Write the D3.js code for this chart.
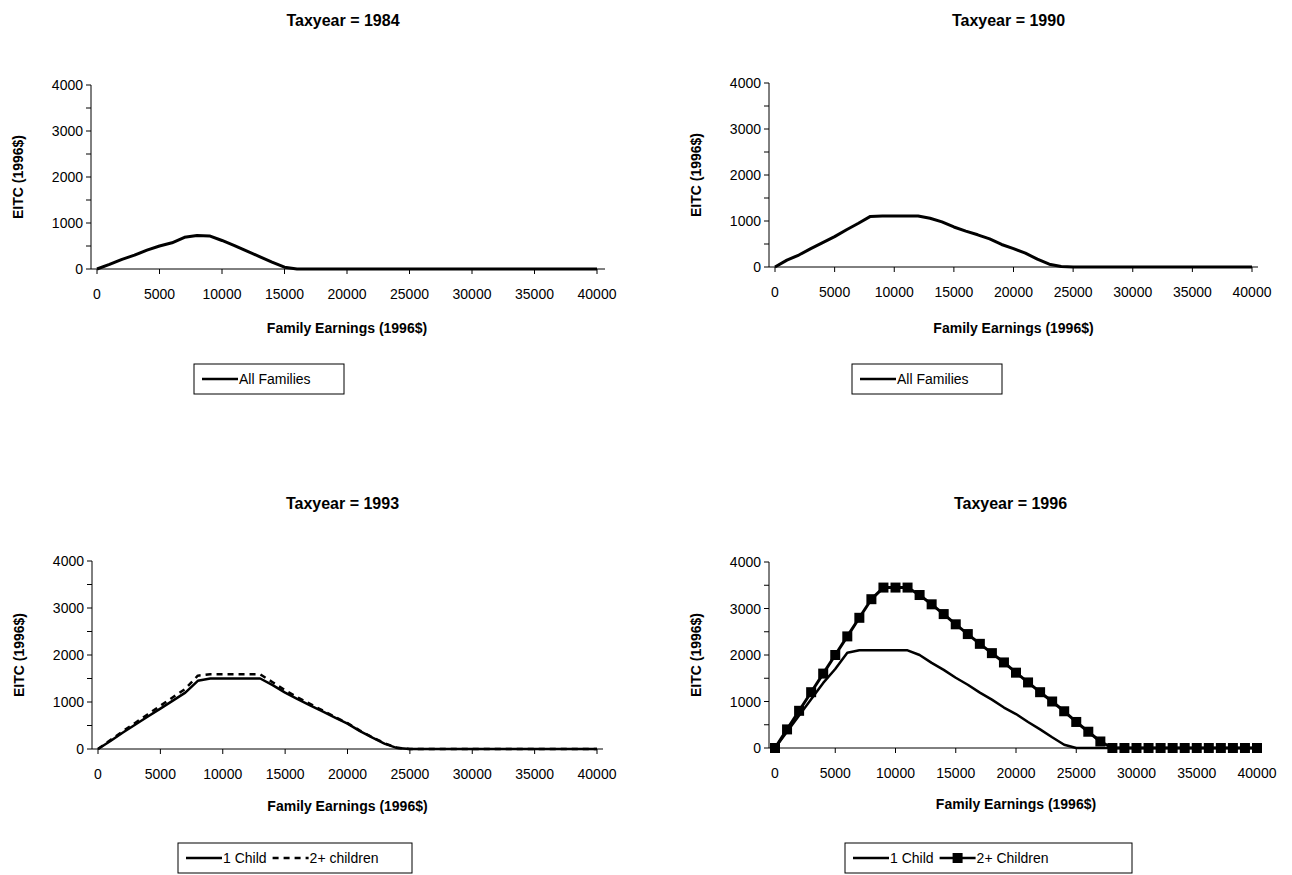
<!DOCTYPE html>
<html>
<head>
<script src="https://cdnjs.cloudflare.com/ajax/libs/d3/7.8.5/d3.min.js"></script>
<style>
  body { margin: 0; background: #fff; }
  text { font-family: "Liberation Sans", Arial, sans-serif; fill: #000; }
</style>
</head>
<body>
<script>
// earnings, every 1000 dollars from 0 to 40000
var earnings = d3.range(0, 40001, 1000);
var xTicks = [0, 5000, 10000, 15000, 20000, 25000, 30000, 35000, 40000];
var yTicks = [0, 1000, 2000, 3000, 4000];

function pad(arr) { var a = arr.slice(); while (a.length < 41) a.push(0); return a; }

var all1984 = pad([0, 100, 210, 300, 410, 500, 570, 690, 730, 720, 620, 510, 390, 270, 150, 40, 0]);
var all1990 = pad([0, 150, 260, 400, 530, 660, 810, 950, 1100, 1110, 1110, 1110, 1110, 1060, 980, 870,
                   780, 700, 610, 490, 400, 300, 170, 60, 10, 0]);
var child1993 = pad([0, 170, 350, 520, 690, 860, 1030, 1200, 1450, 1500, 1500, 1500, 1500, 1500, 1360, 1200,
                     1060, 930, 800, 670, 540, 380, 240, 110, 20, 0]);
var kids1993 = pad([0, 190, 380, 560, 740, 920, 1100, 1280, 1560, 1590, 1590, 1590, 1590, 1590, 1420, 1250,
                    1100, 960, 820, 680, 550, 390, 250, 120, 25, 0]);
var child1996 = pad([0, 350, 700, 1050, 1400, 1700, 2050, 2100, 2100, 2100, 2100, 2100, 2000, 1830, 1680, 1510,
                     1360, 1190, 1040, 870, 730, 560, 400, 230, 70, 0]);
var kids1996 = pad([0, 400, 800, 1200, 1600, 2000, 2400, 2800, 3200, 3450, 3450, 3450, 3290, 3090, 2880, 2660,
                    2450, 2240, 2040, 1840, 1620, 1410, 1200, 1000, 790, 560, 350, 140, 0]);

var panels = [
  { title: "Taxyear = 1984", x0: 97, x1: 597, yb: 269, yt: 85, axEnd: 605, titleY: 26, xTitleY: 333,
    legend: { x: 194, y: 364, w: 150 }, series: [{ name: "All Families", v: all1984 }] },
  { title: "Taxyear = 1990", x0: 775, x1: 1252, yb: 267, yt: 83, axEnd: 1258, titleY: 26, xTitleY: 333,
    legend: { x: 852, y: 364, w: 150 }, series: [{ name: "All Families", v: all1990 }] },
  { title: "Taxyear = 1993", x0: 98, x1: 597, yb: 749, yt: 561, axEnd: 603, titleY: 509, xTitleY: 811,
    legend: { x: 178, y: 843, w: 234 }, series: [{ name: "1 Child", v: child1993 }, { name: "2+ children", v: kids1993, dash: true }] },
  { title: "Taxyear = 1996", x0: 775, x1: 1257, yb: 748, yt: 562, axEnd: 1262, titleY: 509, xTitleY: 809,
    legend: { x: 845, y: 843, w: 287 }, series: [{ name: "1 Child", v: child1996 }, { name: "2+ Children", v: kids1996, marker: true }] }
];

var svg = d3.select("body").append("svg").attr("width", 1292).attr("height", 875);

panels.forEach(function (p) {
  var x = d3.scaleLinear().domain([0, 40000]).range([p.x0, p.x1]);
  var y = d3.scaleLinear().domain([0, 4000]).range([p.yb, p.yt]);
  var g = svg.append("g");
  var axLeft = p.x0 - 6;

  g.append("text").attr("x", (axLeft + p.axEnd) / 2 - 5).attr("y", p.titleY)
    .attr("text-anchor", "middle").attr("font-weight", "bold").attr("font-size", 16).text(p.title);

  // y axis with minor ticks
  g.append("line").attr("x1", axLeft).attr("x2", axLeft).attr("y1", y(0)).attr("y2", y(4000)).attr("stroke", "#000");
  d3.range(0, 4001, 500).forEach(function (t) {
    g.append("line").attr("x1", axLeft - 5).attr("x2", axLeft).attr("y1", y(t)).attr("y2", y(t)).attr("stroke", "#000");
  });
  g.selectAll(".yl").data(yTicks).enter().append("text")
    .attr("x", axLeft - 8).attr("y", function (d) { return y(d) + 5; })
    .attr("text-anchor", "end").attr("font-size", 14).text(function (d) { return d; });
  g.append("text").attr("transform", "translate(" + (axLeft - 68) + "," + y(2000) + ") rotate(-90)")
    .attr("text-anchor", "middle").attr("font-weight", "bold").attr("font-size", 14).text("EITC (1996$)");

  // x axis
  g.append("line").attr("x1", axLeft).attr("x2", p.axEnd).attr("y1", y(0)).attr("y2", y(0)).attr("stroke", "#000");
  xTicks.forEach(function (t) {
    g.append("line").attr("x1", x(t)).attr("x2", x(t)).attr("y1", y(0)).attr("y2", y(0) + 5).attr("stroke", "#000");
  });
  g.selectAll(".xl").data(xTicks).enter().append("text")
    .attr("x", function (d) { return x(d); }).attr("y", y(0) + 30)
    .attr("text-anchor", "middle").attr("font-size", 14).text(function (d) { return d; });
  g.append("text").attr("x", x(20000)).attr("y", p.xTitleY)
    .attr("text-anchor", "middle").attr("font-weight", "bold").attr("font-size", 14).text("Family Earnings (1996$)");

  var line = d3.line().x(function (d, i) { return x(earnings[i]); }).y(function (d) { return y(d); });
  p.series.forEach(function (s) {
    g.append("path").datum(s.v).attr("d", line).attr("fill", "none").attr("stroke", "#000")
      .attr("stroke-width", s.marker || p.series.length === 1 ? 3 : 2.5)
      .attr("stroke-dasharray", s.dash ? "6,5" : null).attr("stroke-linejoin", "round");
    if (s.marker) {
      g.selectAll(".m").data(s.v).enter().append("rect")
        .attr("x", function (d, i) { return x(earnings[i]) - 5; })
        .attr("y", function (d) { return y(d) - 5; })
        .attr("width", 10).attr("height", 10).attr("fill", "#000");
    }
  });

  // legend
  var L = p.legend;
  g.append("rect").attr("x", L.x).attr("y", L.y).attr("width", L.w).attr("height", 30)
    .attr("fill", "#fff").attr("stroke", "#000");
  var cx = L.x + 8;
  p.series.forEach(function (s) {
    g.append("line").attr("x1", cx).attr("x2", cx + 36).attr("y1", L.y + 15).attr("y2", L.y + 15)
      .attr("stroke", "#000").attr("stroke-width", 2.5).attr("stroke-dasharray", s.dash ? "6,5" : null);
    if (s.marker) g.append("rect").attr("x", cx + 13).attr("y", L.y + 10).attr("width", 10).attr("height", 10);
    var t = g.append("text").attr("x", cx + 37).attr("y", L.y + 20).attr("font-size", 14).text(s.name);
    cx += 37 + t.node().getComputedTextLength() + 6;
  });
});
</script>
</body>
</html>
